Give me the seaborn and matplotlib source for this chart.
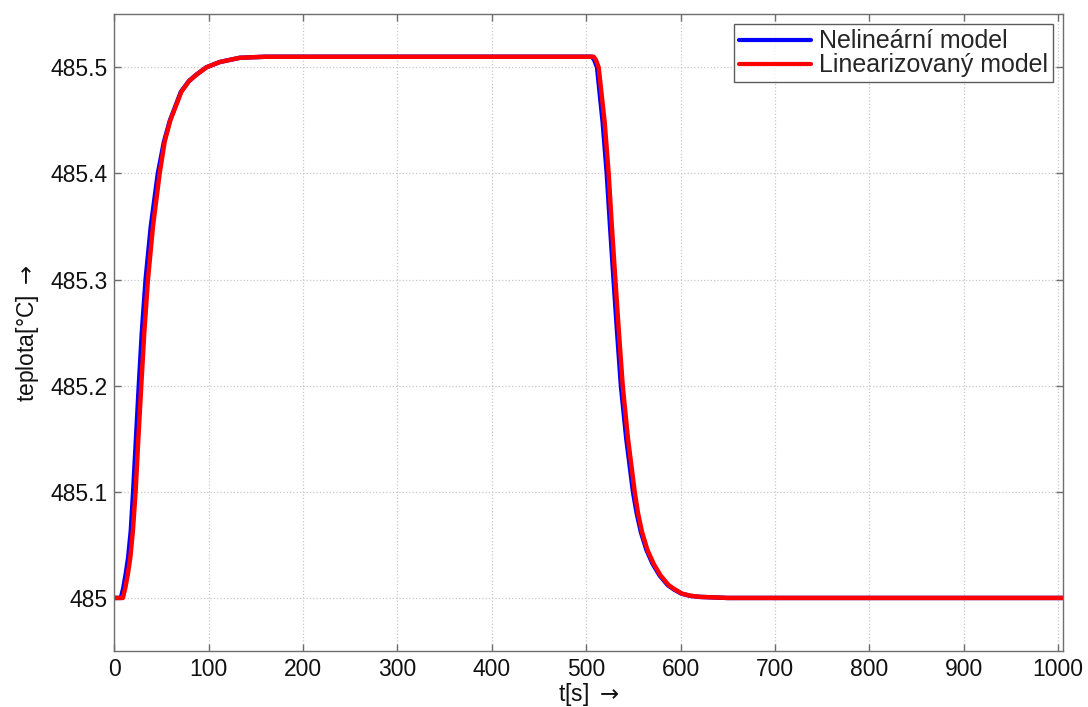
import matplotlib
matplotlib.use("Agg")
import matplotlib.pyplot as plt
import seaborn as sns
import pandas as pd
from matplotlib.ticker import FuncFormatter

# ---- data ----
t_nelin = [0, 6.8, 9.3, 12, 14.5, 17.3, 19.8, 22.8, 25.8, 29, 33, 38.5, 46, 52.5,
           58.8, 70.5, 78.8, 86.6, 97.3, 111.5, 132.8, 160, 300, 450,
           506, 508.5, 511.5, 517.5, 521.8, 525.3, 529, 532.8, 536.8, 542.5, 549.6,
           553.5, 558, 564, 570.5, 578, 586.5, 593, 601, 610, 620, 635, 650, 700,
           800, 1005]
v_nelin = [485.0, 485.0, 485.009, 485.023, 485.038, 485.063, 485.1, 485.15, 485.2,
           485.25, 485.3, 485.35, 485.4, 485.43, 485.45, 485.477, 485.487, 485.493,
           485.5, 485.505, 485.509, 485.51, 485.51, 485.51,
           485.51, 485.507, 485.5, 485.448, 485.4, 485.35, 485.3, 485.25, 485.2,
           485.15, 485.1, 485.08, 485.062, 485.045, 485.032, 485.021, 485.012,
           485.008, 485.004, 485.002, 485.001, 485.0005, 485.0, 485.0, 485.0, 485.0]

t_lin = [0, 8.9, 11.4, 14.3, 16.8, 19.5, 22.4, 25.3, 28.4, 31.6, 35.5, 40.8, 47.9,
         53.2, 59.2, 70.9, 79, 86.8, 97.5, 111.6, 132.8, 160, 300, 450,
         507.9, 510.3, 513.2, 519.6, 523.8, 527.2, 530.9, 534.7, 538.7, 544.3, 551.4,
         554.9, 559.2, 565, 571.6, 579, 587.5, 594, 601.7, 611, 621, 636, 650, 700,
         800, 1005]
v_lin = [485.0, 485.0, 485.009, 485.023, 485.038, 485.063, 485.1, 485.15, 485.2,
         485.25, 485.3, 485.35, 485.4, 485.43, 485.45, 485.477, 485.487, 485.493,
         485.5, 485.505, 485.509, 485.51, 485.51, 485.51,
         485.51, 485.507, 485.5, 485.448, 485.4, 485.35, 485.3, 485.25, 485.2,
         485.15, 485.1, 485.08, 485.062, 485.045, 485.032, 485.021, 485.012,
         485.008, 485.004, 485.002, 485.001, 485.0005, 485.0, 485.0, 485.0, 485.0]

labels = ["Nelineární model", "Linearizovaný model"]
x_ticks = [0, 100, 200, 300, 400, 500, 600, 700, 800, 900, 1000]
y_ticks = [485.0, 485.1, 485.2, 485.3, 485.4, 485.5]

# ---- figure ----
sns.set_theme(style="white")
plt.rcParams['font.family'] = ['Liberation Sans', 'DejaVu Sans']
plt.rcParams['mathtext.fontset'] = 'dejavusans'

fig = plt.figure(figsize=(10.88, 7.07), dpi=100)
ax = fig.add_axes([0.1052, 0.0792, 0.8715, 0.9006])

df1 = pd.DataFrame({"t": t_nelin, "v": v_nelin})
df2 = pd.DataFrame({"t": t_lin, "v": v_lin})
sns.lineplot(data=df1, x="t", y="v", ax=ax, color=(0, 0, 1), linewidth=3.2,
             label=labels[0], sort=False)
sns.lineplot(data=df2, x="t", y="v", ax=ax, color=(1, 0, 0), linewidth=3.2,
             label=labels[1], sort=False)
for ln in ax.get_lines():
    ln.set_solid_joinstyle('round')
    ln.set_solid_capstyle('round')

ax.set_xlim(0, 1005)
ax.set_ylim(484.95, 485.55)
ax.set_xticks(x_ticks)
ax.set_yticks(y_ticks)
ax.yaxis.set_major_formatter(FuncFormatter(lambda v, p: format(round(v, 1), 'g')))

ax.grid(True, linestyle=':', color='#c8c8c8', linewidth=0.9)
for s in ax.spines.values():
    s.set_visible(True)
    s.set_color('#6e6e6e')
    s.set_linewidth(1.0)

ax.tick_params(axis='both', which='major', direction='in', length=5, width=1,
               color='#6e6e6e', labelsize=16.5, labelcolor='#111111',
               top=True, right=True, bottom=True, left=True, pad=5)

ax.set_xlabel("t[s] $\\rightarrow$", fontsize=16.5, color='#111111', labelpad=0)
ax.set_ylabel("teplota[°C] $\\rightarrow$", fontsize=16.5, color='#111111', labelpad=7)

leg = ax.legend(loc='upper right', fontsize=18, frameon=True, fancybox=False,
                edgecolor='#333333', handlelength=2.9, handletextpad=0.3,
                labelspacing=0.0, borderpad=0.2, borderaxespad=0.4)
leg.get_frame().set_linewidth(1.0)
for ln in leg.get_lines():
    ln.set_linewidth(3)

fig.savefig("out.png", dpi=100, facecolor='white')
